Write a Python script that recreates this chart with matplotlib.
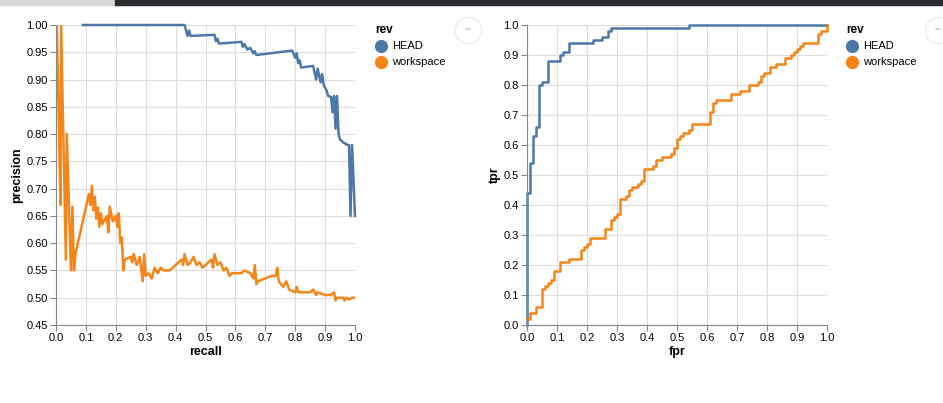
import matplotlib.pyplot as plt
from matplotlib.patches import Rectangle
from matplotlib.lines import Line2D

# precision / recall
head_recall = [0.09, 0.43, 0.44, 0.445, 0.45, 0.53, 0.535, 0.54, 0.545, 0.62, 0.625, 0.63, 0.64, 0.65,
               0.66, 0.665, 0.67, 0.79, 0.80, 0.805, 0.81, 0.815, 0.82, 0.86, 0.87, 0.875, 0.885, 0.89,
               0.895, 0.905, 0.91, 0.92, 0.925, 0.93, 0.935, 0.94, 0.945, 0.95, 0.96, 0.975, 0.98, 0.985,
               0.99, 1.0]
head_precision = [1.0, 1.0, 0.98, 0.99, 0.98, 0.982, 0.97, 0.975, 0.966, 0.969, 0.96, 0.965, 0.955, 0.958,
                  0.948, 0.952, 0.945, 0.953, 0.94, 0.948, 0.93, 0.935, 0.922, 0.925, 0.90, 0.92, 0.895, 0.91,
                  0.89, 0.88, 0.87, 0.868, 0.84, 0.87, 0.81, 0.87, 0.80, 0.79, 0.785, 0.78, 0.78, 0.65,
                  0.78, 0.65]
ws_recall = [0.003, 0.01, 0.015, 0.017, 0.033, 0.036, 0.05, 0.055, 0.06, 0.065, 0.11, 0.115, 0.12, 0.125,
             0.13, 0.135, 0.14, 0.145, 0.15, 0.155, 0.17, 0.175, 0.18, 0.19, 0.2, 0.205, 0.21, 0.215, 0.22,
             0.225, 0.23, 0.25, 0.255, 0.26, 0.27, 0.28, 0.29, 0.295, 0.3, 0.31, 0.32, 0.33, 0.34, 0.35,
             0.36, 0.38, 0.42, 0.425, 0.43, 0.44, 0.45, 0.46, 0.47, 0.48, 0.49, 0.5, 0.52, 0.525, 0.53,
             0.54, 0.55, 0.56, 0.57, 0.58, 0.59, 0.62, 0.63, 0.65, 0.66, 0.665, 0.67, 0.675, 0.72, 0.735,
             0.74, 0.745, 0.76, 0.77, 0.78, 0.8, 0.805, 0.81, 0.85, 0.86, 0.87, 0.875, 0.9, 0.92, 0.93,
             0.935, 0.94, 0.96, 0.965, 0.97, 0.98, 0.99, 1.0]
ws_precision = [1.0, 0.80, 0.67, 1.0, 0.57, 0.80, 0.55, 0.667, 0.55, 0.58, 0.69, 0.67, 0.705, 0.66,
                0.685, 0.645, 0.665, 0.63, 0.655, 0.635, 0.65, 0.62, 0.667, 0.64, 0.65, 0.63, 0.655, 0.60, 0.61,
                0.55, 0.57, 0.575, 0.565, 0.58, 0.56, 0.575, 0.53, 0.58, 0.54, 0.545, 0.535, 0.555, 0.545, 0.555,
                0.55, 0.55, 0.57, 0.56, 0.58, 0.56, 0.565, 0.575, 0.56, 0.565, 0.555, 0.56, 0.57, 0.555, 0.58,
                0.56, 0.565, 0.55, 0.555, 0.54, 0.545, 0.545, 0.55, 0.545, 0.535, 0.56, 0.525, 0.53, 0.54, 0.54,
                0.555, 0.53, 0.52, 0.53, 0.515, 0.51, 0.52, 0.51, 0.51, 0.515, 0.505, 0.51, 0.505, 0.505, 0.51,
                0.495, 0.50, 0.50, 0.495, 0.50, 0.497, 0.50, 0.50]

# roc
head_fpr = [0, 0, 0.01, 0.02, 0.03, 0.04, 0.05, 0.07, 0.11, 0.12, 0.14, 0.22, 0.25, 0.27, 0.28, 0.54, 1.0]
head_tpr = [0, 0.44, 0.54, 0.63, 0.66, 0.80, 0.81, 0.88, 0.90, 0.91, 0.94, 0.95, 0.96, 0.98, 0.99, 1.0, 1.0]
ws_fpr = [0, 0.01, 0.03, 0.05, 0.06, 0.07, 0.08, 0.09, 0.11, 0.14, 0.18, 0.19, 0.20, 0.21, 0.26, 0.28,
          0.29, 0.30, 0.31, 0.33, 0.34, 0.35, 0.37, 0.38, 0.39, 0.42, 0.43, 0.45, 0.48, 0.49, 0.50, 0.51,
          0.52, 0.54, 0.55, 0.61, 0.62, 0.63, 0.68, 0.71, 0.74, 0.77, 0.78, 0.79, 0.81, 0.83, 0.86, 0.88,
          0.89, 0.90, 0.91, 0.92, 0.97, 0.98, 1.0, 1.0]
ws_tpr = [0.02, 0.04, 0.06, 0.12, 0.13, 0.14, 0.15, 0.18, 0.21, 0.22, 0.25, 0.26, 0.27, 0.29, 0.32, 0.35,
          0.36, 0.37, 0.42, 0.43, 0.45, 0.46, 0.47, 0.48, 0.52, 0.53, 0.55, 0.56, 0.57, 0.59, 0.62, 0.63,
          0.64, 0.65, 0.67, 0.71, 0.74, 0.75, 0.77, 0.78, 0.80, 0.81, 0.83, 0.84, 0.86, 0.87, 0.89, 0.90,
          0.91, 0.92, 0.93, 0.94, 0.97, 0.98, 0.99, 1.0]

series = ['HEAD', 'workspace']
colors = ['#4c78a8', '#f58518']

plt.rcParams['font.family'] = ['Liberation Sans', 'DejaVu Sans']

fig = plt.figure(figsize=(9.43, 4.03), dpi=100)
fig.patch.set_facecolor('white')

# screenshot top strip
fig.patches.append(Rectangle((0, 0.988), 1, 0.012, transform=fig.transFigure, color='#d8d8d8', zorder=0))
fig.patches.append(Rectangle((0.122, 0.988), 0.878, 0.012, transform=fig.transFigure, color='#2b2b30', zorder=0))


def style(ax, xlabel, ylabel):
    ax.grid(color='#dddddd', linewidth=0.8)
    ax.set_axisbelow(True)
    for s in ['top', 'right']:
        ax.spines[s].set_visible(False)
    for s in ['left', 'bottom']:
        ax.spines[s].set_color('#888888')
    ax.tick_params(colors='#888888', labelcolor='black', labelsize=8, length=4, width=0.8, pad=2)
    ax.set_xlabel(xlabel, fontsize=9, fontweight='bold', labelpad=2)
    ax.set_ylabel(ylabel, fontsize=9, fontweight='bold', labelpad=2)
    ax.set_xticks([i / 10 for i in range(11)])
    ax.set_xlim(0, 1)


def dot(x, y, **kw):
    fig.add_artist(Line2D([x], [y], marker='o', linestyle='none', transform=fig.transFigure, **kw))


def legend(x0):
    fig.text(x0 / 943, 1 - 30 / 403, 'rev', fontsize=8.5, fontweight='bold', va='center')
    for i, (name, c) in enumerate(zip(series, colors)):
        y = 1 - (46 + 16 * i) / 403
        dot((x0 + 6) / 943, y, markersize=8.5, color=c)
        fig.text((x0 + 17) / 943, y, name, fontsize=8, va='center')


ax1 = fig.add_axes([56 / 943, 1 - 325 / 403, 299 / 943, 300 / 403])
ax1.plot(head_recall, head_precision, color=colors[0], lw=1.8, clip_on=False)
ax1.plot(ws_recall, ws_precision, color=colors[1], lw=1.8)
style(ax1, 'recall', 'precision')
ax1.set_ylim(0.45, 1.0)
ax1.set_yticks([0.45 + 0.05 * i for i in range(12)])
ax1.set_yticklabels(['%.2f' % (0.45 + 0.05 * i) for i in range(12)])
legend(375)

ax2 = fig.add_axes([527 / 943, 1 - 325 / 403, 300 / 943, 300 / 403])
ax2.plot(head_fpr, head_tpr, color=colors[0], lw=1.8, drawstyle='steps-post', clip_on=False)
ax2.plot(ws_fpr, ws_tpr, color=colors[1], lw=1.8, drawstyle='steps-post', clip_on=False)
style(ax2, 'fpr', 'tpr')
ax2.set_ylim(0, 1)
ax2.set_yticks([i / 10 for i in range(11)])
legend(846)

# action buttons
for cx in [468, 938]:
    dot(cx / 943, 1 - 30 / 403, markersize=19, markerfacecolor='white', markeredgecolor='#eeeeee', markeredgewidth=1)
    fig.text(cx / 943, 1 - 30 / 403, '•••', fontsize=5, color='#cccccc', ha='center', va='center')

plt.savefig('out.png', dpi=100)
plt.close()
